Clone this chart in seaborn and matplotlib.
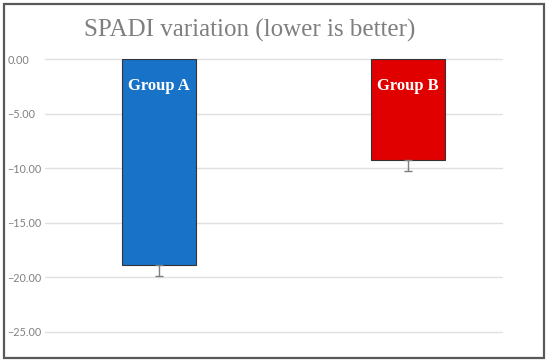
import matplotlib
matplotlib.use("Agg")
import matplotlib.pyplot as plt
import seaborn as sns
import pandas as pd
from matplotlib.patches import Rectangle

groups = ["Group A", "Group B"]
values = [-18.9, -9.25]
errors = [1.0, 1.0]
colors = ["#1872c8", "#e00000"]
yticks = [0, -5, -10, -15, -20, -25]
title = "SPADI variation (lower is better)"

df = pd.DataFrame({"group": groups, "value": values})

sns.set_theme(style="white")
fig = plt.figure(figsize=(5.5, 3.63), dpi=100)
W, H = 550, 363
ax = fig.add_axes([45 / W, 1 - 332 / H, (502 - 45) / W, (332 - 59) / H])

sns.barplot(data=df, x="group", y="value", hue="group", palette=colors,
            saturation=1, width=0.3, edgecolor="#333333", linewidth=0.8,
            legend=False, errorbar=None, ax=ax, zorder=3)
ax.errorbar(range(len(groups)), values, yerr=[errors, [0] * len(errors)],
            fmt="none", ecolor="#7f7f7f", elinewidth=1.0, capsize=3,
            capthick=1.0, zorder=4)

for i, (g, v) in enumerate(zip(groups, values)):
    ax.text(i, -2.5, g, ha="center", va="center", color="white",
            fontsize=12, fontweight="bold", family="Liberation Serif", zorder=5)

ax.set_ylim(-25, 0)
ax.set_xlim(-0.458, 1.378)
ax.set_yticks(yticks)
ax.set_yticklabels([f"{t:.2f}".replace("-", "\u2212") if t != 0 else "0.00" for t in yticks])
ax.set_xticks([])
ax.set_xlabel("")
ax.set_ylabel("")
for s in ax.spines.values():
    s.set_visible(False)
ax.yaxis.grid(True, color="#e0e0e0", linewidth=1.0, zorder=0)
ax.set_axisbelow(True)
ax.tick_params(axis="y", length=0, pad=27, labelsize=7.8, labelcolor="#808080")
for lab in ax.get_yticklabels():
    lab.set_ha("left")
    lab.set_family("Lato")
for line in ax.get_ygridlines():
    line.set_clip_on(False)

fig.text(250 / W, 1 - 30 / H, title, ha="center", va="center", fontsize=18,
         color="#7f7f7f", family="Liberation Serif")

fig.patches.append(Rectangle((4 / W, 1 - 358 / H), 540 / W, 354 / H,
                             transform=fig.transFigure, fill=False,
                             edgecolor="#595959", linewidth=1.6))

fig.savefig("out.png", dpi=100)
